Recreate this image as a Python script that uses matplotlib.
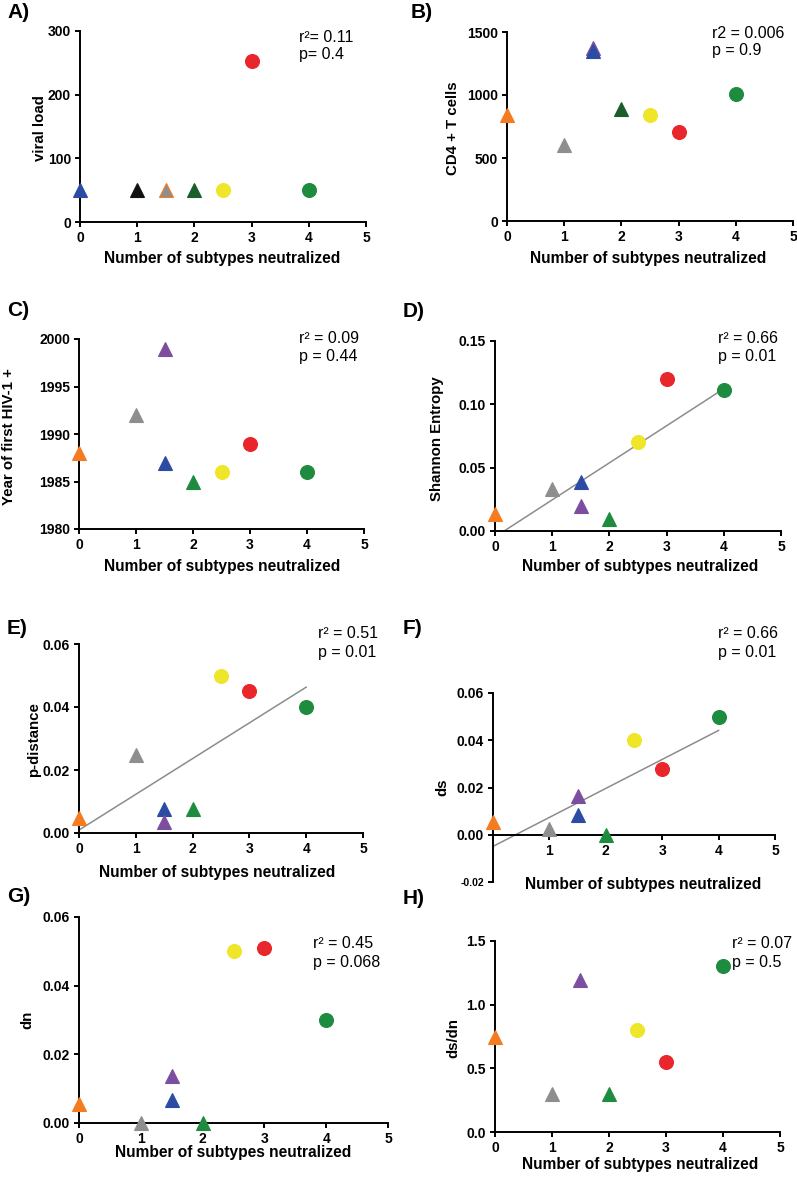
import numpy as np
import matplotlib
matplotlib.use("Agg")
import matplotlib.pyplot as plt

plt.rcParams['font.family'] = ['Liberation Sans', 'DejaVu Sans']

W, H = 797, 1177

# colours of the study subjects
ORANGE = '#f47b20'
GRAY = '#8e8e8e'
PURPLE = '#7d4ea0'
BLUE = '#2c4ba3'
GREEN = '#1e8c3e'
YELLOW = '#efe629'
RED = '#e8262b'
DKGREEN = '#1b5e2b'
BLACK = '#111111'

# A) viral load
a_x = [0, 1, 1.5, 2, 2.5, 3, 4]
a_y = [50, 50, 50, 50, 50, 253, 50]
a_col = [BLUE, BLACK, GRAY, DKGREEN, YELLOW, RED, GREEN]
a_mk = ['^', '^', '^', '^', 'o', 'o', 'o']

# B) CD4 + T cells
b_x = [0, 1, 1.5, 1.5, 2, 2.5, 3, 4]
b_y = [840, 600, 1375, 1350, 885, 840, 705, 1008]
b_col = [ORANGE, GRAY, PURPLE, BLUE, DKGREEN, YELLOW, RED, GREEN]
b_mk = ['^', '^', '^', '^', '^', 'o', 'o', 'o']

# C) year of first HIV-1 +
c_x = [0, 1, 1.5, 1.5, 2, 2.5, 3, 4]
c_y = [1988, 1992, 1999, 1987, 1985, 1986, 1989, 1986]
c_col = [ORANGE, GRAY, PURPLE, BLUE, GREEN, YELLOW, RED, GREEN]
c_mk = ['^', '^', '^', '^', '^', 'o', 'o', 'o']

# D) Shannon entropy
d_x = [0, 1, 1.5, 1.5, 2, 2.5, 3, 4]
d_y = [0.0135, 0.033, 0.039, 0.020, 0.0095, 0.070, 0.120, 0.111]
d_col = [ORANGE, GRAY, BLUE, PURPLE, GREEN, YELLOW, RED, GREEN]
d_mk = ['^', '^', '^', '^', '^', 'o', 'o', 'o']

# E) p-distance
e_x = [0, 1, 1.5, 1.5, 2, 2.5, 3, 4]
e_y = [0.0048, 0.0248, 0.0075, 0.0035, 0.0077, 0.050, 0.045, 0.040]
e_col = [ORANGE, GRAY, BLUE, PURPLE, GREEN, YELLOW, RED, GREEN]
e_mk = ['^', '^', '^', '^', '^', 'o', 'o', 'o']

# F) ds
f_x = [0, 1, 1.5, 1.5, 2, 2.5, 3, 4]
f_y = [0.0055, 0.0025, 0.0165, 0.0083, 0.0, 0.040, 0.028, 0.050]
f_col = [ORANGE, GRAY, PURPLE, BLUE, GREEN, YELLOW, RED, GREEN]
f_mk = ['^', '^', '^', '^', '^', 'o', 'o', 'o']

# G) dn
g_x = [0, 1, 1.5, 1.5, 2, 2.5, 3, 4]
g_y = [0.0055, 0.0, 0.0138, 0.0068, 0.0, 0.050, 0.051, 0.030]
g_col = [ORANGE, GRAY, PURPLE, BLUE, GREEN, YELLOW, RED, GREEN]
g_mk = ['^', '^', '^', '^', '^', 'o', 'o', 'o']

# H) ds/dn
h_x = [0, 1, 1.5, 2, 2.5, 3, 4]
h_y = [0.75, 0.30, 1.19, 0.30, 0.80, 0.55, 1.30]
h_col = [ORANGE, GRAY, PURPLE, GREEN, YELLOW, RED, GREEN]
h_mk = ['^', '^', '^', '^', 'o', 'o', 'o']

x_ticks = [0, 1, 2, 3, 4, 5]
xlab = "Number of subtypes neutralized"

fig = plt.figure(figsize=(W / 100, H / 100), dpi=100)


def fx(px):
    return px / W


def fy(py):
    return 1 - py / H


def panel(box, xs, ys, cols, mks, ylim, yticks, yfmt, fit=False, edge=None):
    l, r, t, b = box
    ax = fig.add_axes([fx(l), fy(b), (r - l) / W, (b - t) / H])
    for sp in ['top', 'right']:
        ax.spines[sp].set_visible(False)
    for sp in ['left', 'bottom']:
        ax.spines[sp].set_linewidth(1.4)
    ax.set_xlim(0, 5)
    ax.set_ylim(*ylim)
    ax.set_xticks(x_ticks)
    ax.set_yticks(yticks)
    ax.set_yticklabels([yfmt.format(v) for v in yticks])
    ax.tick_params(length=3.5, width=1.4, labelsize=10, pad=3)
    for lab in ax.get_xticklabels() + ax.get_yticklabels():
        lab.set_fontweight('bold')
    if fit:
        k, c0 = np.polyfit(xs, ys, 1)
        xx = np.array([0, 4])
        ax.plot(xx, k * xx + c0, color='#8c8c8c', lw=1.1, zorder=2)
    for i in range(len(xs)):
        ms = 10 if mks[i] == 'o' else 10
        ec = cols[i]
        if edge is not None and edge[i]:
            ec = edge[i]
        ax.plot(xs[i], ys[i], marker=mks[i], ms=ms, color=cols[i],
                mec=ec, mew=0.8, ls='none', clip_on=False, zorder=3)
    return ax


def label(px, py, s, **kw):
    fig.text(fx(px), fy(py), s, **kw)


def ylabel(px, py, s):
    label(px, py, s, rotation=90, ha='center', va='center',
          fontsize=10.8, fontweight='bold')


def xlabel(px, py):
    label(px, py, xlab, ha='center', va='center', fontsize=11.2, fontweight='bold')


def letter(px, py, s):
    label(px, py, s, ha='left', va='center', fontsize=15, fontweight='bold')


def stats(px, py1, py2, s1, s2):
    label(px, py1, s1, ha='left', va='center', fontsize=11.5)
    label(px, py2, s2, ha='left', va='center', fontsize=11.5)


# A
a_edge = [None, None, ORANGE, None, None, None, None]
panel((80, 366, 31, 222), a_x, a_y, a_col, a_mk, (0, 300), [0, 100, 200, 300], '{:d}', edge=a_edge)
letter(7, 13, 'A)')
ylabel(40, 128, 'viral load')
xlabel(222, 258)
stats(299, 37, 55, 'r²= 0.11', 'p= 0.4')

# B
panel((507, 793, 32, 221), b_x, b_y, b_col, b_mk, (0, 1500), [0, 500, 1000, 1500], '{:d}')
letter(411, 13, 'B)')
ylabel(453, 128, 'CD4 + T cells')
xlabel(648, 258)
stats(712, 33, 51, 'r2 = 0.006', 'p = 0.9')

# C
panel((79, 364, 339, 529), c_x, c_y, c_col, c_mk, (1980, 2000), [1980, 1985, 1990, 1995, 2000], '{:d}')
letter(7, 310, 'C)')
ylabel(9, 437, 'Year of first HIV-1 +')
xlabel(222, 566)
stats(299, 338, 357, 'r² = 0.09', 'p = 0.44')

# D
panel((495, 781, 341, 531), d_x, d_y, d_col, d_mk, (0, 0.15), [0, 0.05, 0.10, 0.15], '{:.2f}', fit=True)
letter(403, 312, 'D)')
ylabel(437, 439, 'Shannon Entropy')
xlabel(640, 566)
stats(718, 338, 357, 'r² = 0.66', 'p = 0.01')

# E
panel((79, 363, 644, 833), e_x, e_y, e_col, e_mk, (0, 0.06), [0, 0.02, 0.04, 0.06], '{:.2f}', fit=True)
letter(7, 629, 'E)')
ylabel(34, 740, 'p-distance')
xlabel(217, 872)
stats(318, 633, 652, 'r² = 0.51', 'p = 0.01')

# F
axf = panel((493, 775, 693, 882), f_x, f_y, f_col, f_mk, (-0.02, 0.06), [-0.02, 0, 0.02, 0.04, 0.06], '{:.2f}', fit=True)
axf.spines['bottom'].set_position(('data', 0))
axf.set_xticklabels(['', '1', '2', '3', '4', '5'])
for lab in axf.get_xticklabels():
    lab.set_fontweight('bold')
axf.get_yticklabels()[0].set_fontsize(7.5)
letter(403, 628, 'F)')
ylabel(442, 787, 'ds')
xlabel(643, 885)
stats(718, 633, 652, 'r² = 0.66', 'p = 0.01')

# G
panel((79, 388, 917, 1123), g_x, g_y, g_col, g_mk, (0, 0.06), [0, 0.02, 0.04, 0.06], '{:.2f}')
letter(7, 897, 'G)')
ylabel(27, 1020, 'dn')
xlabel(233, 1153)
stats(313, 943, 962, 'r² = 0.45', 'p = 0.068')

# H
panel((495, 780, 941, 1132), h_x, h_y, h_col, h_mk, (0, 1.5), [0, 0.5, 1.0, 1.5], '{:.1f}')
letter(403, 899, 'H)')
ylabel(453, 1038, 'ds/dn')
xlabel(640, 1165)
stats(732, 943, 962, 'r² = 0.07', 'p = 0.5')

fig.savefig('out.png', dpi=100)
